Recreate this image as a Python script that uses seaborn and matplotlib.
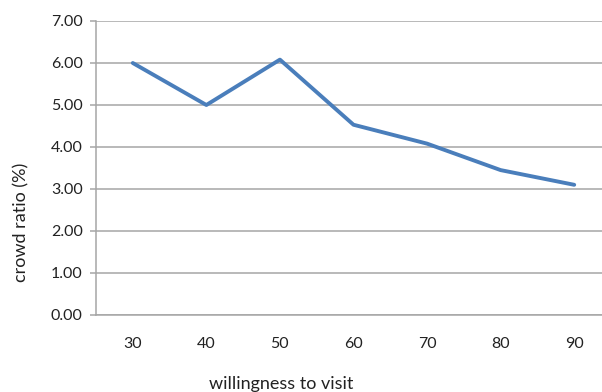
import matplotlib
matplotlib.use("Agg")
import matplotlib.pyplot as plt
import numpy as np
import pandas as pd
import seaborn as sns
from matplotlib.ticker import FixedLocator, FormatStrFormatter

# data
willingness = ["30", "40", "50", "60", "70", "80", "90"]
crowd_ratio = [6.00, 5.00, 6.08, 4.53, 4.08, 3.45, 3.10]
y_ticks = [0, 1, 2, 3, 4, 5, 6, 7]

df = pd.DataFrame({"willingness": willingness, "ratio": crowd_ratio})

sns.set_style("white")
plt.rcParams["font.family"] = ["Lato", "DejaVu Sans"]

fig = plt.figure(figsize=(6.02, 3.92), dpi=100)
W, H = 602, 392
left, right, top, bottom = 96, 611, 21, 315
ax = fig.add_axes([left / W, 1 - bottom / H, (right - left) / W, (bottom - top) / H])

sns.lineplot(data=df, x="willingness", y="ratio", ax=ax, color="#4a7ebb",
             linewidth=2.8, sort=False, zorder=3)

ax.set_ylim(0, 7)
ax.set_xlim(-0.5, len(willingness) - 0.5)
ax.yaxis.set_major_locator(FixedLocator(y_ticks))
ax.yaxis.set_major_formatter(FormatStrFormatter("%.2f"))
ax.grid(axis="y", color="#a6a6a6", linewidth=1.1)
ax.set_axisbelow(True)

for s in ["top", "right"]:
    ax.spines[s].set_visible(False)
for s in ["left", "bottom"]:
    ax.spines[s].set_color("#a6a6a6")
    ax.spines[s].set_linewidth(1.1)

# category boundary ticks on x, label ticks hidden
ax.set_xticks(np.arange(len(willingness)))
ax.set_xticklabels(willingness)
ax.xaxis.set_minor_locator(FixedLocator(np.arange(-0.5, len(willingness) + 0.5, 1.0)))
ax.tick_params(axis="x", which="major", length=0, pad=16, labelsize=11.5, labelcolor="#222222")
ax.tick_params(axis="x", which="minor", length=4.5, width=1.1, color="#a6a6a6", direction="out")
ax.tick_params(axis="y", which="major", length=4.5, width=1.1, color="#a6a6a6",
               direction="out", pad=5, labelsize=11.5, labelcolor="#222222", left=True)

ax.set_xlabel("")
ax.set_ylabel("")
fig.text(21 / W, 1 - 222 / H, "crowd ratio (%)", rotation=90, ha="center", va="center",
         fontsize=13, color="#222222")
fig.text(281 / W, 1 - 376 / H, "willingness to visit", ha="center", va="top",
         fontsize=13, color="#222222")

fig.savefig("out.png", dpi=100)
